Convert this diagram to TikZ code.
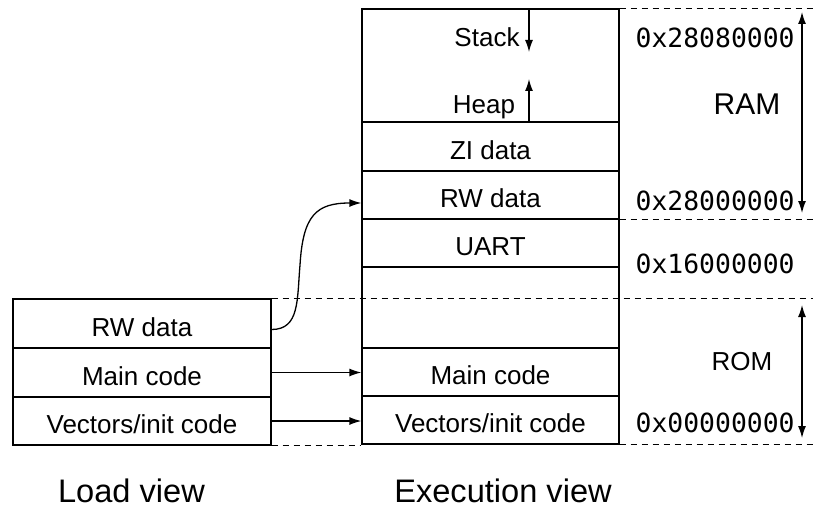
\documentclass[tikz,border=0pt]{standalone}
\usepackage{fontspec}
\setmainfont{Liberation Sans}
\setmonofont{DejaVu Sans Mono}
\usetikzlibrary{arrows.meta}

\newcommand{\rowfont}{\fontsize{13}{15}\selectfont}
\newcommand{\addrfont}{\ttfamily\fontsize{13.2}{15}\selectfont}
\newcommand{\viewfont}{\fontsize{16.3}{19}\selectfont}

\begin{document}
\begin{tikzpicture}[x=0.5pt, y=-0.5pt, line width=0.65pt, >={Latex[length=6pt,width=4pt]},
  memrow/.style={draw, inner sep=0pt, minimum width=128.5pt, text height=12.5pt, text depth=0pt, font=\rowfont},
  addr/.style={anchor=west, inner sep=0pt, font=\addrfont},
  bound/.style={dash pattern=on 3pt off 2.5pt}]

\useasboundingbox (0,0) rectangle (813,508);

\pgfmathsetmacro{\exX}{490.5}
\pgfmathsetmacro{\ldX}{142}
\node[memrow, minimum height=56.5pt] (exStackHeap) at (\exX,65.5) {};
\foreach \nm/\yc/\rh/\txt in {exZI/146.5/49/ZI data, exRW/195/48/RW data, exUART/243/48/UART, exFree/307.5/81/{}, exMain/372/48/Main code, exVec/420/48/{Vectors/init code}}
\node[memrow, minimum height=\rh*0.5pt] (\nm) at (\exX,\yc) {\txt};

\foreach \nm/\yc/\rh/\txt in {ldRW/323.5/49/RW data, ldMain/372.5/49/Main code, ldVec/421/48/{Vectors/init code}}
\node[memrow, minimum width=129pt, minimum height=\rh*0.5pt] (\nm) at (\ldX,\yc) {\txt};

\node[anchor=base, font=\rowfont] (stackLbl) at (487,47) {Stack};
\node[anchor=base, font=\rowfont] (heapLbl) at (484,113.5) {Heap};
\coordinate (stackTop) at (529,9);
\coordinate (stackEnd) at (529,52);
\coordinate (heapBase) at (529,122);
\coordinate (heapEnd) at (529,79);
\draw[->] (stackTop) -- (stackEnd);
\draw[->] (heapBase) -- (heapEnd);

\node[addr] (addrTop) at (635,37.5) {0x28080000};
\node[addr] (addrRW) at (635,200.5) {0x28000000};
\node[addr] (addrUART) at (635,264) {0x16000000};
\node[addr] (addrBase) at (635,422.5) {0x00000000};
\node[font=\fontsize{15}{18}\selectfont] (ramLbl) at (747,104) {RAM};
\node[font=\rowfont] (romLbl) at (742,362) {ROM};

\coordinate (rEdge) at (813,0);
\draw[bound] (exStackHeap.north east) -- (exStackHeap.north east -| rEdge);
\draw[bound] (exRW.south east) -- (exRW.south east -| rEdge);
\draw[bound] (ldRW.north east) -- (ldRW.north east -| rEdge);
\draw[bound] (ldVec.south east) -- (ldVec.south east -| exVec.west);
\draw[bound] (exVec.south east) -- (exVec.south east -| rEdge);

\coordinate (ramTop) at (802,12);
\coordinate (ramBot) at (802,213);
\coordinate (romTop) at (802,305);
\coordinate (romBot) at (802,438);
\draw[<->] (ramTop) -- (ramBot);
\draw[<->] (romTop) -- (romBot);

\coordinate (rwBend) at (300,265);
\draw[->] ([yshift=-3pt]ldRW.east) .. controls +(28,0) and +(-3,35) .. (rwBend)
  .. controls +(3,-50) and +(-45,0) .. ([yshift=-4pt]exRW.west);
\draw[->] (ldMain.east) -- (ldMain.east -| exMain.west);
\draw[->] (ldVec.east) -- (ldVec.east -| exVec.west);

\node[font=\viewfont, inner sep=0pt] (loadLbl) at (131.5,491) {Load view};
\node[font=\viewfont, inner sep=0pt] (execLbl) at (503,491) {Execution view};
\end{tikzpicture}
\end{document}
